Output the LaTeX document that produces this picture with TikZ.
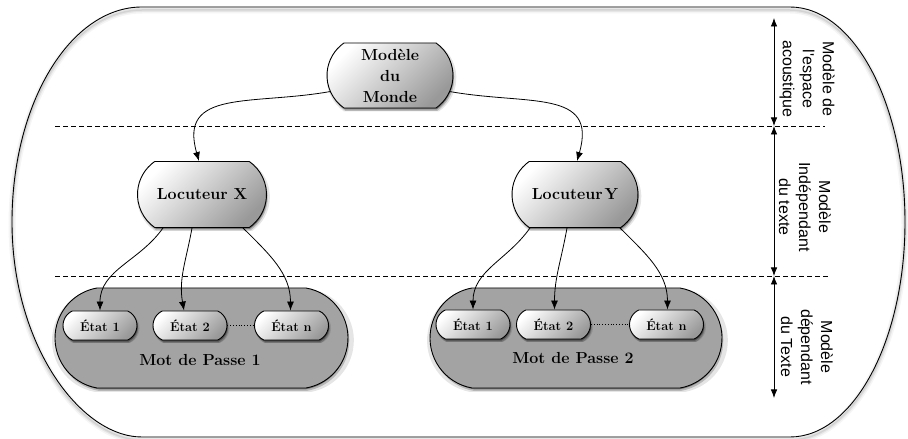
\documentclass[tikz,border=0pt]{standalone}
\usepackage{fontspec}
\newfontfamily\sidefont{Liberation Sans}
\usetikzlibrary{shapes.misc,shadows,arrows.meta}

\tikzset{
  softshadow/.style={
    general shadow={shadow xshift=1.4pt, shadow yshift=-2.4pt, shadow scale=1.03, fill=black, opacity=0.10},
    general shadow={shadow xshift=1.3pt, shadow yshift=-2.8pt, fill=black, opacity=0.20},
    general shadow={shadow xshift=1pt, shadow yshift=-1.8pt, shadow scale=0.99, fill=black, opacity=0.35}},
  shinybox/.style={rounded rectangle, draw=black, line width=0.9pt,
    top color=white, bottom color=black!40, shading angle=45, softshadow,
    inner sep=0pt, align=center},
  bignode/.style={shinybox, rounded rectangle arc length=110,
    minimum width=#1, minimum height=66pt,
    font=\fontsize{16}{21}\selectfont\bfseries},
  statebox/.style={shinybox, rounded rectangle arc length=130,
    minimum width=74pt, minimum height=29pt,
    font=\fontsize{12.8}{14}\selectfont\bfseries},
  passbox/.style={rounded rectangle, rounded rectangle arc length=160,
    draw=black, line width=0.9pt, fill=black!36, softshadow,
    minimum width=#1, minimum height=100pt, inner sep=0pt},
  passlabel/.style={font=\fontsize{16}{18}\selectfont\bfseries, inner sep=0pt},
  conn/.style={-{Latex[length=9pt,width=7pt]}, line width=0.8pt},
  span/.style={{Latex[length=8.5pt,width=6.5pt]}-{Latex[length=8.5pt,width=6.5pt]}, line width=0.8pt},
  separator/.style={dashed, dash pattern=on 5pt off 3pt, line width=0.7pt},
  sidelabel/.style={rotate=-90, align=center, inner sep=0pt,
    font=\sidefont\fontsize{16}{20}\selectfont},
}

% outline of the whole model, a stadium with elliptic ends
\newcommand\outerloop{(142,432) -- (790,432)
  .. controls (853.5,432) and (905,335.7) .. (905,217)
  .. controls (905,98.3) and (853.5,2) .. (790,2)
  -- (142,2)
  .. controls (80,2) and (12,95) .. (12,217)
  .. controls (12,335.7) and (70.2,432) .. (142,432) -- cycle}

\begin{document}
\begin{tikzpicture}[x=1pt,y=1pt]
  \fill[white] (0,0) rectangle (908,439);
  \useasboundingbox (0,0) rectangle (908,439);

  % soft shadow of the outline
  \begin{scope}[transform canvas={yshift=-3pt}]
    \draw[black, opacity=0.04, line width=7pt] \outerloop;
    \draw[black, opacity=0.06, line width=4pt] \outerloop;
    \draw[black, opacity=0.08, line width=1.5pt] \outerloop;
  \end{scope}
  \draw[line width=0.9pt] \outerloop;

  % level separators
  \coordinate (sepAl) at (55,313);
  \coordinate (sepAr) at (825,313);
  \coordinate (sepBl) at (55,163);
  \coordinate (sepBr) at (828,163);
  \draw[separator] (sepAl) -- (sepAr);
  \draw[separator] (sepBl) -- (sepBr);

  % level spans
  \coordinate (lvTop) at (774,421);
  \coordinate (lvA) at (774,313);
  \coordinate (lvB) at (774,163);
  \coordinate (lvBot) at (774,41);
  \draw[span] (lvTop) -- (lvA);
  \draw[span] (lvA) -- (lvB);
  \draw[span] (lvB) -- (lvBot);

  \node[sidelabel] (labA) at (807,360) {Modèle de\\l'espace\\acoustique};
  \node[sidelabel] (labB) at (805,232) {Modèle\\Indépendant\\du texte};
  \node[sidelabel] (labC) at (807,92) {Modèle\\dépendant\\du Texte};

  % world model and speakers
  \node[bignode=126pt, minimum height=65pt] (monde) at (390,363.5) {Modèle\\du\\Monde};
  \node[bignode=129pt] (locx) at (202,244.5) {Locuteur X};
  \node[bignode=126pt] (locy) at (575,244.5) {Locuteur\hspace{0.12em}Y};

  % pass phrases
  \node[passbox=293pt] (mdpA) at (201.5,101) {};
  \node[passbox=292pt] (mdpB) at (576,101) {};
  \node[passlabel] (mdpAtxt) at (200,79) {Mot de Passe 1};
  \node[passlabel] (mdpBtxt) at (573,81) {Mot de Passe 2};

  \node[statebox] (aA) at (100,113.5) {État 1};
  \node[statebox] (aB) at (190,113.5) {État 2};
  \node[statebox] (aN) at (291.5,113.5) {État n};
  \node[statebox] (bA) at (473,114.5) {État 1};
  \node[statebox] (bB) at (553.5,114.5) {État 2};
  \node[statebox] (bN) at (666.5,114.5) {État n};

  \draw[dotted, line width=0.8pt] (aB.east) -- (aN.west);
  \draw[dotted, line width=0.8pt] (bB.east) -- (bN.west);

  % connectors
  \draw[conn] (monde.195) .. controls +(190:80) and +(106:75) .. ([xshift=-3pt]locx.north);
  \draw[conn] (monde.-15) .. controls +(-10:80) and +(74:75) .. ([xshift=2pt]locy.north);

  \draw[conn] ([xshift=-39pt]locx.south) to[out=235, in=90] (aA.north);
  \draw[conn] ([xshift=-10pt]locx.south) to[out=260, in=100] ([xshift=-6pt]aB.north);
  \draw[conn] ([xshift=41pt]locx.south) to[out=-45, in=90] ([xshift=-1pt]aN.north);

  \draw[conn] ([xshift=-45pt]locy.south) to[out=235, in=90] (bA.north);
  \draw[conn] ([xshift=-8pt]locy.south) to[out=260, in=90] ([xshift=1pt]bB.north);
  \draw[conn] ([xshift=45pt]locy.south) to[out=-45, in=90] ([xshift=1pt]bN.north);
\end{tikzpicture}
\end{document}
